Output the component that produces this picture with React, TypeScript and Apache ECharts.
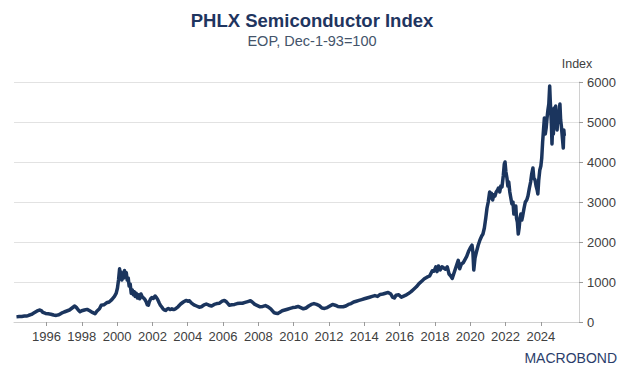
import React, { useEffect, useRef } from "react";
import * as echarts from "echarts";

const years: number[] = [
  1994.3, 1994.45, 1994.6, 1994.75, 1994.9, 1995.0, 1995.15, 1995.3, 1995.45, 1995.6, 1995.7, 1995.8, 1995.95,
  1996.1, 1996.25, 1996.4, 1996.55, 1996.7, 1996.85, 1997.0, 1997.15, 1997.3, 1997.45, 1997.6, 1997.7, 1997.8, 1997.9,
  1998.0, 1998.15, 1998.3, 1998.45, 1998.6, 1998.75, 1998.85, 1999.0, 1999.1, 1999.25, 1999.4, 1999.55, 1999.7, 1999.85, 1999.95,
  2000.02, 2000.08, 2000.14, 2000.18, 2000.22, 2000.27, 2000.32, 2000.37, 2000.42, 2000.47, 2000.52, 2000.57, 2000.63, 2000.68, 2000.74, 2000.8, 2000.86, 2000.92, 2000.97,
  2001.02, 2001.08, 2001.15, 2001.22, 2001.28, 2001.35, 2001.42, 2001.5, 2001.58, 2001.65, 2001.71, 2001.77, 2001.82, 2001.9, 2001.97,
  2002.05, 2002.15, 2002.23, 2002.3, 2002.38, 2002.45, 2002.52, 2002.6, 2002.68, 2002.75, 2002.82, 2002.9,
  2003.0, 2003.1, 2003.2, 2003.3, 2003.45, 2003.6, 2003.75, 2003.9,
  2004.0, 2004.1, 2004.2, 2004.35, 2004.5, 2004.65, 2004.77, 2004.9,
  2005.05, 2005.2, 2005.35, 2005.5, 2005.65, 2005.8, 2005.95,
  2006.08, 2006.2, 2006.35, 2006.5, 2006.65, 2006.8, 2006.95,
  2007.1, 2007.25, 2007.4, 2007.55, 2007.65, 2007.8, 2007.95,
  2008.1, 2008.25, 2008.4, 2008.55, 2008.7, 2008.8, 2008.9,
  2009.0, 2009.1, 2009.2, 2009.35, 2009.5, 2009.65, 2009.8, 2009.95,
  2010.1, 2010.25, 2010.4, 2010.55, 2010.7, 2010.85,
  2011.0, 2011.15, 2011.3, 2011.45, 2011.6, 2011.75, 2011.9,
  2012.05, 2012.2, 2012.35, 2012.5, 2012.65, 2012.8, 2012.95,
  2013.1, 2013.25, 2013.4, 2013.55, 2013.7, 2013.85,
  2014.0, 2014.15, 2014.3, 2014.45, 2014.6, 2014.75, 2014.9,
  2015.05, 2015.2, 2015.35, 2015.5, 2015.6, 2015.7, 2015.8, 2015.95,
  2016.1, 2016.2, 2016.35, 2016.5, 2016.65, 2016.8, 2016.95,
  2017.1, 2017.25, 2017.4, 2017.55, 2017.7, 2017.85, 2017.95,
  2018.05, 2018.12, 2018.2, 2018.3, 2018.4, 2018.5, 2018.6, 2018.7, 2018.8, 2018.9, 2018.98,
  2019.1, 2019.25, 2019.32, 2019.4, 2019.5, 2019.6, 2019.7, 2019.8, 2019.9,
  2020.0, 2020.1, 2020.15, 2020.2, 2020.27, 2020.35, 2020.45, 2020.55, 2020.65, 2020.72, 2020.8, 2020.88, 2020.95,
  2021.02, 2021.1, 2021.15, 2021.2, 2021.27, 2021.33, 2021.4, 2021.47, 2021.55, 2021.6, 2021.67, 2021.73, 2021.8, 2021.87, 2021.93, 2021.97,
  2022.02, 2022.08, 2022.13, 2022.18, 2022.24, 2022.3, 2022.36, 2022.42, 2022.47, 2022.52, 2022.58, 2022.62, 2022.67, 2022.72, 2022.77, 2022.82, 2022.87, 2022.92, 2022.97,
  2023.05, 2023.12, 2023.2, 2023.27, 2023.35, 2023.42, 2023.48, 2023.55, 2023.6, 2023.67, 2023.73, 2023.79, 2023.83, 2023.88, 2023.94,
  2024.0, 2024.05, 2024.1, 2024.15, 2024.2, 2024.25, 2024.3, 2024.35, 2024.4, 2024.45, 2024.5, 2024.53, 2024.57, 2024.6, 2024.63, 2024.67, 2024.71, 2024.75, 2024.8, 2024.84, 2024.88, 2024.92, 2024.96,
  2025.0, 2025.04, 2025.08, 2025.12, 2025.16, 2025.2, 2025.24, 2025.27, 2025.3, 2025.33,
];

const indexValues: number[] = [
  128, 135, 140, 150, 150, 168, 190, 230, 270, 300, 285, 240, 215,
  205, 195, 175, 165, 180, 220, 250, 275, 300, 350, 400, 360, 300, 255,
  280, 300, 315, 280, 240, 205, 270, 330, 420, 430, 480, 500, 560, 640, 720,
  850, 1050, 1330, 1150, 1250, 1050, 1220, 1100, 1290, 1150, 1230, 1050, 1100, 900, 950, 720, 800, 680, 760,
  640, 720, 600, 680, 580, 700, 630, 600, 560, 500, 430, 420, 500, 580, 610,
  590, 650, 610, 560, 480, 420, 380, 330, 300, 290, 320, 340,
  310, 330, 310, 330, 380, 450, 500, 540,
  520, 530, 480, 430, 400, 370, 380, 420,
  450, 420, 400, 440, 460, 470, 520,
  540, 500, 420, 430, 440, 460, 470,
  470, 490, 510, 530, 500, 440, 410,
  380, 390, 410, 380, 330, 280, 230,
  220, 210, 240, 280, 300, 320, 340, 360,
  370, 390, 360, 330, 350, 400,
  440, 460, 440, 410, 350, 340, 360,
  400, 440, 420, 390, 380, 380, 400,
  440, 460, 500, 520, 540, 560,
  580, 600, 620, 640, 660, 640, 690,
  700, 720, 740, 700, 620, 600, 670, 680,
  620, 640, 670, 710, 760, 820, 880,
  960, 1020, 1080, 1120, 1150, 1280, 1270,
  1380, 1260, 1400, 1300, 1380, 1350, 1320, 1380, 1200, 1150, 1090,
  1250, 1450, 1540, 1330, 1450, 1480, 1560, 1640, 1760,
  1850, 1920, 1750, 1300, 1600, 1750, 1920, 2050, 2150, 2200, 2350, 2600, 2850,
  3000, 3250, 3100, 3220, 3050, 3180, 3150, 3250, 3300, 3350, 3250, 3400, 3380, 3650, 3950, 4000,
  3750, 3600, 3400, 3500, 3250, 3100, 2950, 3000, 2700, 2750, 2900, 2600, 2500, 2200, 2350, 2600, 2700, 2550, 2650,
  2850, 3000, 3050, 3150, 3350, 3500, 3700, 3850, 3600, 3550, 3400, 3300, 3200, 3550, 3800,
  3900, 4100, 4500, 4800, 5100, 4700, 4850, 5100, 5300, 5450, 5900, 5550, 5200, 4900, 4450, 4950, 4700, 5350, 4900, 5400, 5050, 4800, 5100,
  5000, 5250, 5450, 5050, 4900, 4700, 4500, 4350, 4800, 4650,
];

const yearTicks: number[] = [1996, 1998, 2000, 2002, 2004, 2006, 2008, 2010, 2012, 2014, 2016, 2018, 2020, 2022, 2024];

const FONT = "'Liberation Sans', Arial, sans-serif";

export default function App() {
  const ref = useRef<HTMLDivElement>(null);
  useEffect(() => {
    if (!ref.current) return;
    const chart = echarts.init(ref.current, undefined, { renderer: "svg" });
    const data = years.map((y, i) => [y, indexValues[i]]);
    chart.setOption({
      animation: false,
      backgroundColor: "#ffffff",
      textStyle: { fontFamily: FONT },
      title: {
        text: "PHLX Semiconductor Index",
        subtext: "EOP, Dec-1-93=100",
        left: "center",
        top: 6,
        itemGap: 3,
        textStyle: { fontFamily: FONT, fontSize: 18.5, fontWeight: "bold", color: "#1f3560" },
        subtextStyle: { fontFamily: FONT, fontSize: 14.5, color: "#44546a" },
      },
      grid: { left: 14, right: 45, top: 82, bottom: 54, containLabel: false, outerBoundsMode: "none" },
      xAxis: {
        type: "value",
        min: 1994.16,
        max: 2026.16,
        axisLine: { show: true, lineStyle: { color: "#d0d0d0", width: 1 } },
        axisTick: { show: true, length: 4, customValues: yearTicks, lineStyle: { color: "#9a9a9a" } },
        axisLabel: {
          customValues: yearTicks,
          formatter: (v: number) => String(Math.round(v)),
          color: "#404040",
          fontSize: 13,
          fontFamily: FONT,
          margin: 8,
        },
        splitLine: { show: false },
      },
      yAxis: {
        type: "value",
        position: "right",
        min: 0,
        max: 6000,
        interval: 1000,
        axisLine: { show: true, lineStyle: { color: "#d0d0d0", width: 1 } },
        axisTick: { show: true, length: 4, lineStyle: { color: "#9a9a9a" } },
        axisLabel: {
          formatter: (v: number) => String(Math.round(v)),
          color: "#404040",
          fontSize: 13,
          fontFamily: FONT,
          margin: 8,
        },
        splitLine: { show: true, lineStyle: { color: "#e2e2e2", width: 1 } },
      },
      graphic: [
        {
          type: "text",
          x: 577,
          y: 64,
          style: { text: "Index", fill: "#404040", font: `12.5px ${FONT}`, align: "center", verticalAlign: "middle" },
        },
        {
          type: "text",
          x: 617,
          y: 358,
          style: { text: "MACROBOND", fill: "#2b3e6b", font: `14px ${FONT}`, align: "right", verticalAlign: "middle" },
        },
      ],
      series: [
        {
          type: "line",
          data,
          showSymbol: false,
          symbol: "none",
          lineStyle: { color: "#1b355e", width: 3.5, join: "round" },
          z: 3,
        },
      ],
    });
    return () => chart.dispose();
  }, []);
  return <div ref={ref} style={{ position: "fixed", left: 0, top: 0, width: 624, height: 376 }} />;
}
